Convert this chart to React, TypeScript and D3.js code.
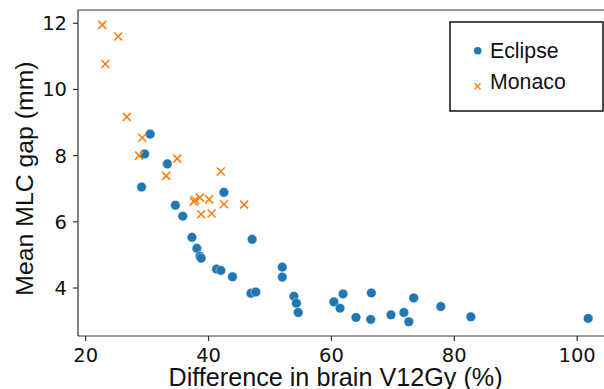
import React from "react";
import * as d3 from "d3";

const eclipseX = [30.5, 29.6, 33.3, 29.1, 34.6, 35.8, 42.5, 37.3, 38.1, 38.6, 38.8, 41.3, 42.0, 43.9, 47.1, 46.9, 47.7, 52.0, 52.0, 53.9, 54.3, 54.6, 60.4, 61.4, 61.9, 64.0, 66.5, 66.4, 69.7, 71.8, 72.6, 73.4, 77.8, 82.7, 101.8];
const eclipseY = [8.65, 8.05, 7.75, 7.05, 6.5, 6.17, 6.89, 5.53, 5.2, 4.96, 4.9, 4.57, 4.53, 4.34, 5.47, 3.84, 3.88, 4.63, 4.33, 3.75, 3.54, 3.26, 3.58, 3.39, 3.82, 3.11, 3.85, 3.05, 3.19, 3.26, 2.98, 3.7, 3.44, 3.13, 3.08];

const monacoX = [22.7, 25.3, 23.2, 26.7, 29.2, 28.7, 34.9, 33.1, 42.0, 37.6, 37.8, 38.6, 40.1, 42.5, 45.8, 38.8, 40.5];
const monacoY = [11.95, 11.6, 10.77, 9.17, 8.54, 8.0, 7.91, 7.39, 7.52, 6.61, 6.66, 6.73, 6.68, 6.53, 6.52, 6.23, 6.25];

const xTicks = [20, 40, 60, 80, 100];
const yTicks = [4, 6, 8, 10, 12];
const seriesNames = ["Eclipse", "Monaco"];
const xTitle = "Difference in brain V12Gy (%)";
const yTitle = "Mean MLC gap (mm)";

const W = 604;
const H = 389;
const BLUE = "#1f77b4";
const ORANGE = "#ff7f0e";
const TICKFONT = "'DejaVu Sans', sans-serif";
const TEXTFONT = "'Liberation Sans', Arial, sans-serif";

export default function App() {
  const x = d3.scaleLinear().domain([18.75, 106]).range([78, 614]);
  const y = d3.scaleLinear().domain([2.55, 12.4]).range([336, 10]);
  const [x0, x1] = x.range();
  const [yb, yt] = y.range();
  const eclipse = eclipseX.map((v, i) => [v, eclipseY[i]]);
  const monaco = monacoX.map((v, i) => [v, monacoY[i]]);
  const xm = 4;
  const cross = (cx: number, cy: number, key: string | number, sw = 1.6) => (
    <g key={key} stroke={ORANGE} strokeWidth={sw} strokeLinecap="butt">
      <line x1={cx - xm} y1={cy - xm} x2={cx + xm} y2={cy + xm} />
      <line x1={cx - xm} y1={cy + xm} x2={cx + xm} y2={cy - xm} />
    </g>
  );
  return (
    <svg width={W} height={H} style={{ position: "absolute", left: 0, top: 0 }}>
      <rect x={0} y={0} width={W} height={H} fill="#fff" />
      {/* spines */}
      <g stroke="#333" strokeWidth={1.2} fill="none">
        <line x1={x0} y1={yb} x2={x1} y2={yb} />
        <line x1={x0} y1={yt} x2={x1} y2={yt} />
        <line x1={x0} y1={yt} x2={x0} y2={yb} />
        <line x1={x1} y1={yt} x2={x1} y2={yb} />
      </g>
      {/* x ticks */}
      {xTicks.map((t) => (
        <g key={"xt" + t}>
          <line x1={x(t)} x2={x(t)} y1={yb} y2={yb + 5} stroke="#333" strokeWidth={1.2} />
          <text x={x(t)} y={362} textAnchor="middle" fontFamily={TICKFONT} fontSize={19.5} fill="#111">
            {t}
          </text>
        </g>
      ))}
      {/* y ticks */}
      {yTicks.map((t) => (
        <g key={"yt" + t}>
          <line x1={x0 - 5} x2={x0} y1={y(t)} y2={y(t)} stroke="#333" strokeWidth={1.2} />
          <text x={x0 - 11} y={y(t)} dy="0.36em" textAnchor="end" fontFamily={TICKFONT} fontSize={19.5} fill="#111">
            {t}
          </text>
        </g>
      ))}
      {/* data */}
      {eclipse.map((d, i) => (
        <circle key={"e" + i} cx={x(d[0])} cy={y(d[1])} r={4.8} fill={BLUE} stroke="#fff" strokeWidth={0.4} />
      ))}
      {monaco.map((d, i) => cross(x(d[0]), y(d[1]), "m" + i))}
      {/* titles */}
      <text x={335.5} y={385.5} textAnchor="middle" fontFamily={TEXTFONT} fontSize={25.2} fill="#111">
        {xTitle}
      </text>
      <text
        transform={`translate(32.5,${178.5}) rotate(-90)`}
        textAnchor="middle"
        fontFamily={TEXTFONT}
        fontSize={24.8}
        fill="#111"
      >
        {yTitle}
      </text>
      {/* legend */}
      <rect x={450} y={22} width={153} height={89} fill="#fff" stroke="#111" strokeWidth={1.5} />
      <circle cx={477.7} cy={50.7} r={3.8} fill={BLUE} />
      <text x={490} y={57.5} fontFamily={TEXTFONT} fontSize={21.3} fill="#111">
        {seriesNames[0]}
      </text>
      {(() => {
        const cx = 477.5, cy = 86.3, s = 3;
        return (
          <g stroke={ORANGE} strokeWidth={1.4}>
            <line x1={cx - s} y1={cy - s} x2={cx + s} y2={cy + s} />
            <line x1={cx - s} y1={cy + s} x2={cx + s} y2={cy - s} />
          </g>
        );
      })()}
      <text x={490} y={88.5} fontFamily={TEXTFONT} fontSize={21.3} fill="#111">
        {seriesNames[1]}
      </text>
    </svg>
  );
}
